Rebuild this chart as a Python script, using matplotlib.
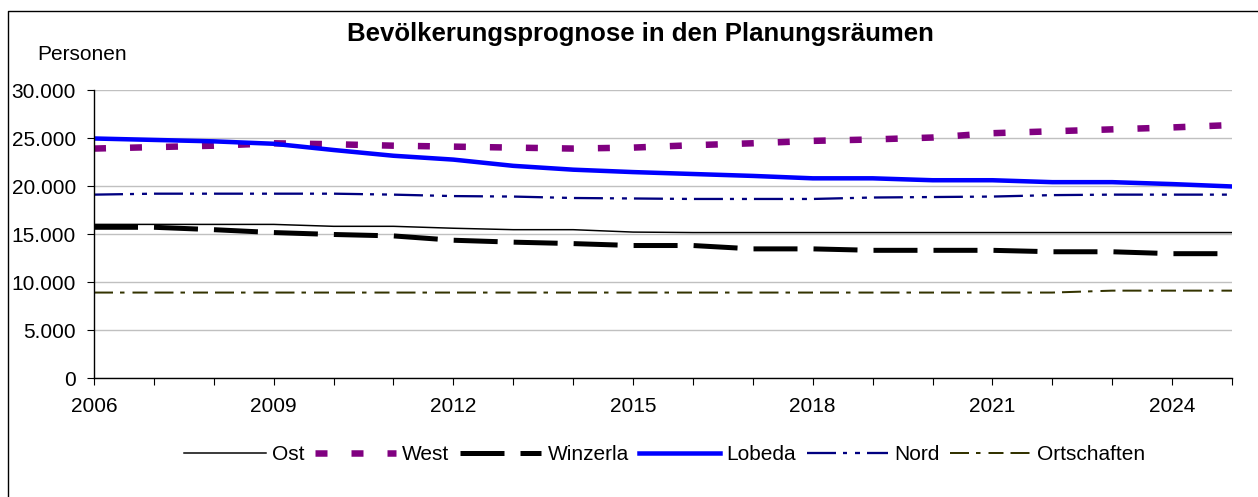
import matplotlib
matplotlib.use("Agg")
import matplotlib.pyplot as plt
from matplotlib.ticker import FuncFormatter, MultipleLocator
from matplotlib.lines import Line2D

plt.rcParams['font.family'] = ['Liberation Sans', 'DejaVu Sans']

years = list(range(2006, 2026))
ost = [16000, 16000, 16000, 16000, 15800, 15800, 15600, 15450, 15450, 15200,
       15150, 15150, 15150, 15150, 15150, 15150, 15150, 15150, 15150, 15150]
west = [23900, 24050, 24200, 24450, 24350, 24200, 24100, 24000, 23900, 24000,
        24250, 24450, 24700, 24850, 25050, 25500, 25700, 25900, 26100, 26350]
winzerla = [15700, 15700, 15450, 15150, 14950, 14800, 14350, 14150, 14000, 13800,
            13800, 13450, 13450, 13300, 13300, 13300, 13150, 13150, 12950, 12950]
lobeda = [24950, 24800, 24650, 24400, 23750, 23150, 22750, 22100, 21700, 21450,
          21250, 21050, 20800, 20800, 20600, 20600, 20400, 20400, 20200, 19950]
nord = [19100, 19200, 19200, 19200, 19200, 19100, 18950, 18900, 18750, 18700,
        18650, 18650, 18650, 18800, 18850, 18900, 19050, 19100, 19100, 19100]
ortschaften = [8900, 8900, 8900, 8900, 8900, 8900, 8900, 8900, 8900, 8900,
               8900, 8900, 8900, 8900, 8900, 8900, 8900, 9100, 9100, 9100]

labels = ["Ost", "West", "Winzerla", "Lobeda", "Nord", "Ortschaften"]
xticks_major = [2006, 2009, 2012, 2015, 2018, 2021, 2024]

W, H = 1258, 497
FS = 15
fig = plt.figure(figsize=(W / 100, H / 100), dpi=100)
ax = fig.add_axes([94 / W, 1 - 378 / H, (1232 - 94) / W, (378 - 90) / H])

ax.set_xlim(2006, 2025)
ax.set_ylim(0, 30000)
ax.yaxis.set_major_locator(MultipleLocator(5000))
ax.yaxis.set_major_formatter(FuncFormatter(lambda v, p: f"{int(v):,}".replace(",", ".")))
ax.set_xticks(years)
ax.set_xticklabels([str(y) if y in xticks_major else "" for y in years])
ax.grid(axis='y', color='#c0c0c0', linewidth=1.0)
ax.set_axisbelow(True)
for s in ['top', 'right']:
    ax.spines[s].set_visible(False)
for s in ['left', 'bottom']:
    ax.spines[s].set_linewidth(1.0)
ax.tick_params(axis='both', direction='out', length=5, width=0.8, labelsize=FS, colors='black')
ax.tick_params(axis='x', pad=9)
ax.tick_params(axis='y', pad=8)

px = 0.72  # points per pixel at 100 dpi

l_ost, = ax.plot(years, ost, color='black', linewidth=1.5 * px, label=labels[0])
l_west, = ax.plot(years, west, color='#800080', linewidth=6.5 * px, label=labels[1],
                  dashes=(12 / 6.5, 24 / 6.5), dash_capstyle='butt')
l_win, = ax.plot(years, winzerla, color='black', linewidth=5 * px, label=labels[2],
                 dashes=(44 / 5, 16 / 5), dash_capstyle='butt')
l_lob, = ax.plot(years, lobeda, color='#0000ff', linewidth=4.5 * px, label=labels[3])
l_nord, = ax.plot(years, nord, color='#000080', linewidth=2.3 * px, label=labels[4],
                  dashes=(29 / 2.3, 7 / 2.3, 4 / 2.3, 8 / 2.3, 5 / 2.3, 7 / 2.3), dash_capstyle='butt')
l_ort, = ax.plot(years, ortschaften, color='#333300', linewidth=2.0 * px, label=labels[5],
                 dashes=(19 / 2, 7 / 2, 4.5 / 2, 8 / 2, 15 / 2, 7 / 2), dash_capstyle='butt')

fig.text(640 / W, 1 - 34 / H, "Bevölkerungsprognose in den Planungsräumen",
         ha='center', va='center', fontsize=18.5, fontweight='bold')
fig.text(37 / W, 1 - 55 / H, "Personen", ha='left', va='center', fontsize=FS)

leg = fig.legend(handles=[l_ost, l_west, l_win, l_lob, l_nord, l_ort], labels=labels,
                 loc='center', bbox_to_anchor=(665 / W, 1 - 455 / H), ncol=6,
                 frameon=False, fontsize=FS, handlelength=3.9, handletextpad=0.3,
                 columnspacing=0.5, borderpad=0)

# chart border (left and top edges visible)
fig.add_artist(Line2D([8 / W, 8 / W, 1.0], [0.0, 1 - 11 / H, 1 - 11 / H],
                      transform=fig.transFigure, color='black', linewidth=1.0))

fig.savefig("out.png", dpi=100)
